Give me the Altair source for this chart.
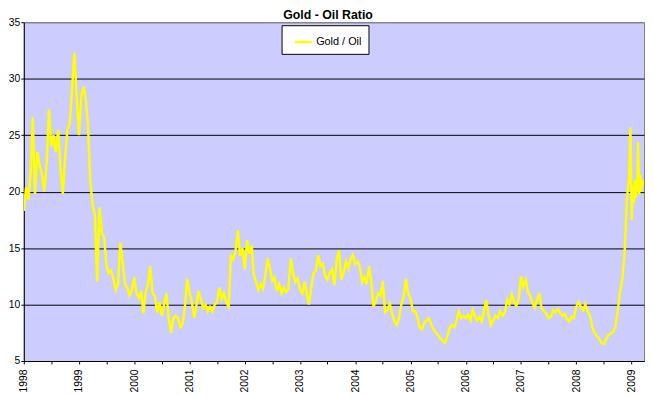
import altair as alt
import pandas as pd

# Semi-monthly readings (1st and 16th of each month), Gold / Oil ratio
y1998 = [18.3, 20.4, 19.3, 21.8, 26.6, 19.8, 23.5, 22.3, 21.5, 20.0, 22.5, 27.3,
         24.0, 25.0, 23.5, 25.5, 22.0, 19.8, 23.0, 25.5, 26.0, 29.0, 32.3, 28.5]
y1999 = [25.0, 28.5, 29.3, 28.0, 26.0, 21.0, 18.8, 18.0, 12.0, 18.6, 16.3, 16.0,
         13.5, 12.8, 13.0, 12.3, 11.3, 11.8, 15.5, 13.8, 11.8, 11.5, 10.8, 11.3]
y2000 = [12.4, 11.0, 10.6, 11.2, 9.2, 11.0, 11.8, 13.4, 11.0, 10.8, 9.3, 10.2,
         9.0, 10.0, 11.0, 8.8, 7.5, 8.8, 9.0, 8.8, 8.0, 8.3, 9.8, 12.3]
y2001 = [11.0, 10.2, 8.8, 10.0, 11.2, 10.5, 9.7, 10.0, 9.4, 9.8, 9.4, 10.0,
         10.2, 11.5, 10.5, 11.0, 10.2, 9.8, 14.3, 14.0, 14.8, 16.6, 14.3, 15.0]
y2002 = [13.1, 15.7, 14.5, 15.2, 12.6, 12.0, 11.3, 11.8, 11.4, 12.5, 14.1, 13.2,
         12.1, 12.4, 11.2, 11.8, 11.0, 11.5, 11.1, 11.4, 14.1, 12.8, 12.0, 12.3]
y2003 = [11.3, 11.0, 12.0, 10.8, 10.0, 11.5, 12.8, 13.0, 14.4, 13.4, 13.6, 12.5,
         12.2, 12.8, 13.1, 11.7, 14.0, 14.8, 12.2, 12.8, 13.8, 13.2, 14.0, 14.4]
y2004 = [13.6, 13.8, 13.3, 12.0, 12.4, 11.8, 13.4, 12.0, 9.8, 10.3, 11.0, 10.8,
         12.1, 9.3, 9.5, 10.1, 9.2, 8.5, 8.2, 8.8, 10.0, 10.7, 12.3, 11.0]
y2005 = [10.5, 9.4, 9.4, 8.8, 8.0, 7.8, 8.4, 8.6, 8.8, 8.3, 7.8, 7.5,
         7.3, 7.0, 6.8, 6.6, 7.2, 7.9, 8.2, 8.0, 8.6, 9.4, 8.8, 9.0]
y2006 = [8.8, 9.1, 8.6, 9.5, 9.0, 8.6, 8.9, 8.5, 9.4, 10.4, 9.0, 8.2,
         8.6, 9.0, 8.8, 9.4, 9.0, 9.3, 10.4, 10.0, 10.9, 10.2, 9.9, 10.5]
y2007 = [12.5, 11.6, 12.2, 11.1, 10.8, 10.2, 9.7, 10.4, 11.0, 9.7, 9.4, 9.2,
         8.8, 8.9, 9.5, 9.3, 9.6, 9.3, 9.0, 9.2, 8.7, 8.5, 8.9, 8.8]
y2008 = [9.8, 10.2, 9.8, 9.5, 10.0, 9.4, 9.0, 8.0, 7.5, 7.2, 7.0, 6.6,
         6.5, 6.9, 7.3, 7.4, 7.6, 8.1, 9.4, 11.1, 12.3, 14.6, 19.5, 21.2]

# Weekly readings at the end of the series
tail_dates = ["2008-12-24", "2009-01-02", "2009-01-09", "2009-01-16", "2009-01-23",
              "2009-01-30", "2009-02-06", "2009-02-13", "2009-02-20", "2009-02-27",
              "2009-03-06", "2009-03-13", "2009-03-20"]
tail_vals = [25.7, 17.5, 20.5, 19.0, 21.0, 19.5, 20.5, 24.4, 19.8, 21.5, 20.0, 21.0, 20.5]

series_name = "Gold / Oil"
years = [1998, 1999, 2000, 2001, 2002, 2003, 2004, 2005, 2006, 2007, 2008]
yearly = [y1998, y1999, y2000, y2001, y2002, y2003, y2004, y2005, y2006, y2007, y2008]

rows = []
for yr, vals in zip(years, yearly):
    for i, v in enumerate(vals):
        m = i // 2 + 1
        d = 1 if i % 2 == 0 else 16
        rows.append({"date": f"{yr}-{m:02d}-{d:02d}T00:00:00", "ratio": v, "series": series_name})
for dt, v in zip(tail_dates, tail_vals):
    rows.append({"date": dt + "T00:00:00", "ratio": v, "series": series_name})
df = pd.DataFrame(rows)

tick_values = []
for yr in range(1998, 2010):
    tick_values.append(alt.DateTime(year=yr, month=1, date=1))
    if yr < 2009:
        tick_values.append(alt.DateTime(year=yr, month=7, date=1))

FONT = "Liberation Sans"

chart = alt.Chart(df).mark_line(strokeWidth=2.5, clip=True).encode(
    x=alt.X("date:T",
            scale=alt.Scale(domain=[alt.DateTime(year=1998, month=1, date=1),
                                    alt.DateTime(year=2009, month=3, date=24)]),
            axis=alt.Axis(values=tick_values,
                          labelExpr="month(datum.value) == 0 ? timeFormat(datum.value, '%Y') : ''",
                          labelAngle=270, labelFontSize=10.5, labelFont=FONT,
                          labelColor="black", labelPadding=5, tickSize=3,
                          tickColor="black", domainColor="black", grid=False,
                          title=None, labelOverlap=False)),
    y=alt.Y("ratio:Q",
            scale=alt.Scale(domain=[5, 35], nice=False, zero=False),
            axis=alt.Axis(values=[5, 10, 15, 20, 25, 30, 35], labelFontSize=10.5,
                          labelFont=FONT, labelColor="black", labelPadding=1,
                          tickSize=3, tickColor="black", domainColor="black",
                          grid=True,
                          gridColor={"condition": {"test": "datum.value >= 35", "value": "#808080"},
                                     "value": "black"},
                          gridOpacity=1, gridWidth=1, title=None)),
    color=alt.Color("series:N",
                    scale=alt.Scale(domain=[series_name], range=["#FFFF00"]),
                    legend=alt.Legend(title=None, orient="none", legendX=261, legendY=3,
                                      symbolType="stroke", symbolSize=289,
                                      symbolStrokeWidth=2.5, labelFontSize=11,
                                      labelFont=FONT, labelColor="black",
                                      fillColor="white", strokeColor="black",
                                      padding=7, symbolOffset=5, labelOffset=3)),
).properties(
    width=628,
    height=343,
    title=alt.TitleParams("Gold - Oil Ratio", fontSize=12.5, fontWeight="bold",
                          font=FONT, color="black", anchor="middle",
                          baseline="alphabetic", offset=-14, dx=-6),
    autosize=alt.AutoSizeParams(type="none"),
    padding={"left": 16, "top": 12, "right": 2, "bottom": 34},
    background="white",
).configure_view(
    fill="#CCCCFF", stroke="#808080", strokeWidth=1
)

chart.save("out.html", embed_options={"renderer": "svg", "actions": False})
